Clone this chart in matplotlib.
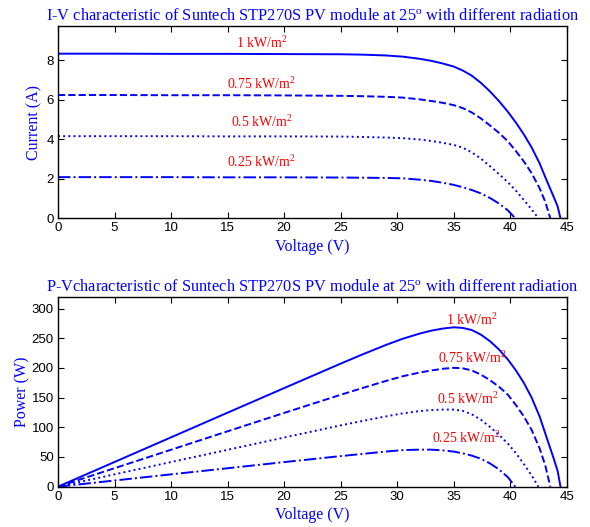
import matplotlib
matplotlib.use("Agg")
import matplotlib.pyplot as plt
import numpy as np

# ---- data ----
v_1000 = [0, 5, 10, 15, 20, 25, 27, 29, 30.5, 32, 33, 34, 35, 35.8, 36.6, 37.4, 38.2, 39, 39.8, 40.5, 41.2, 41.9, 42.6, 43.2, 43.8, 44.2, 44.45]
i_1000 = [8.32, 8.32, 8.31, 8.31, 8.30, 8.29, 8.27, 8.23, 8.17, 8.06, 7.96, 7.83, 7.67, 7.47, 7.21, 6.85, 6.42, 5.93, 5.38, 4.84, 4.25, 3.58, 2.78, 1.95, 1.15, 0.60, 0.0]

v_750 = [0, 5, 10, 15, 20, 25, 27, 29, 30.5, 32, 33, 34, 35, 35.8, 36.6, 37.4, 38.2, 39, 39.8, 40.5, 41.2, 41.9, 42.6, 43.1, 43.55]
i_750 = [6.23, 6.23, 6.22, 6.22, 6.21, 6.19, 6.17, 6.14, 6.10, 6.01, 5.93, 5.84, 5.72, 5.57, 5.35, 5.05, 4.70, 4.32, 3.89, 3.40, 2.88, 2.28, 1.52, 0.84, 0.0]

v_500 = [0, 5, 10, 15, 20, 25, 27, 29, 30.5, 32, 33, 34, 35, 35.8, 36.6, 37.4, 38.2, 39, 39.8, 40.5, 41.2, 41.9, 42.5]
i_500 = [4.15, 4.15, 4.15, 4.14, 4.14, 4.13, 4.11, 4.08, 4.05, 3.98, 3.91, 3.82, 3.71, 3.57, 3.33, 3.02, 2.64, 2.24, 1.82, 1.40, 0.93, 0.45, 0.0]

v_250 = [0, 5, 10, 15, 20, 25, 27, 29, 30.5, 32, 33, 34, 35, 35.8, 36.6, 37.4, 38.2, 39, 39.8, 40.45]
i_250 = [2.08, 2.08, 2.08, 2.07, 2.07, 2.06, 2.05, 2.04, 2.02, 1.95, 1.89, 1.80, 1.69, 1.57, 1.43, 1.26, 1.03, 0.75, 0.40, 0.0]

labels = ["1 kW/m$^2$", "0.75 kW/m$^2$", "0.5 kW/m$^2$", "0.25 kW/m$^2$"]
iv_label_pos = [(18.0, 8.84), (18.0, 6.80), (18.0, 4.87), (18.0, 2.85)]
pv_label_pos = [(36.6, 280), (36.7, 217), (36.3, 147), (36.1, 82)]

x_ticks = [0, 5, 10, 15, 20, 25, 30, 35, 40, 45]
iv_yticks = [0, 2, 4, 6, 8]
pv_yticks = [0, 50, 100, 150, 200, 250, 300]

title_iv = "I-V characteristic of Suntech STP270S PV module at 25$^{\\mathrm{o}}$ with different radiation"
title_pv = "P-Vcharacteristic of Suntech STP270S PV module at 25$^{\\mathrm{o}}$ with different radiation"

# ---- style ----
plt.rcParams['mathtext.fontset'] = 'custom'
plt.rcParams['mathtext.rm'] = 'Liberation Serif'
plt.rcParams['mathtext.it'] = 'Liberation Serif:italic'
plt.rcParams['font.family'] = ['Liberation Sans', 'DejaVu Sans']

blue = '#0000FF'
red = '#FF0000'
styles = ['-', '--', ':', '-.']
serif = ['Liberation Serif', 'DejaVu Serif']

fig = plt.figure(figsize=(5.90, 5.27), dpi=100)
ax1 = fig.add_axes([0.0983, 0.5858, 0.8622, 0.3649])
ax2 = fig.add_axes([0.0983, 0.0765, 0.8622, 0.3605])

curves = [(v_1000, i_1000), (v_750, i_750), (v_500, i_500), (v_250, i_250)]

for (v, i), ls in zip(curves, styles):
    v = np.asarray(v)
    i = np.asarray(i)
    ax1.plot(v, i, color=blue, linestyle=ls, linewidth=1.4)
    ax2.plot(v, v * i, color=blue, linestyle=ls, linewidth=1.4)

for (x, y), lab in zip(iv_label_pos, labels):
    ax1.text(x, y, lab, color=red, fontsize=10, family=serif, ha='center', va='center')
for (x, y), lab in zip(pv_label_pos, labels):
    ax2.text(x, y, lab, color=red, fontsize=10, family=serif, ha='center', va='center')

ax1.set_xlim(0, 45)
ax1.set_ylim(0, 9.72)
ax2.set_xlim(0, 45)
ax2.set_ylim(0, 320)
ax1.set_xticks(x_ticks)
ax2.set_xticks(x_ticks)
ax1.set_yticks(iv_yticks)
ax2.set_yticks(pv_yticks)

for ax in (ax1, ax2):
    ax.tick_params(direction='in', top=True, right=True, length=4, width=0.8,
                   labelsize=9.5, colors='black', pad=3)
    for s in ax.spines.values():
        s.set_linewidth(1.0)
    ax.set_xlabel("Voltage (V)", color=blue, fontsize=11.5, family=serif, labelpad=3)

ax1.set_ylabel("Current (A)", color=blue, fontsize=11.5, family=serif, labelpad=3)
ax2.set_ylabel("Power (W)", color=blue, fontsize=11.5, family=serif, labelpad=1)
ax1.set_title(title_iv, color=blue, fontsize=11.8, family=serif, pad=4)
ax2.set_title(title_pv, color=blue, fontsize=11.8, family=serif, pad=4)

fig.savefig("out.png", dpi=100)
